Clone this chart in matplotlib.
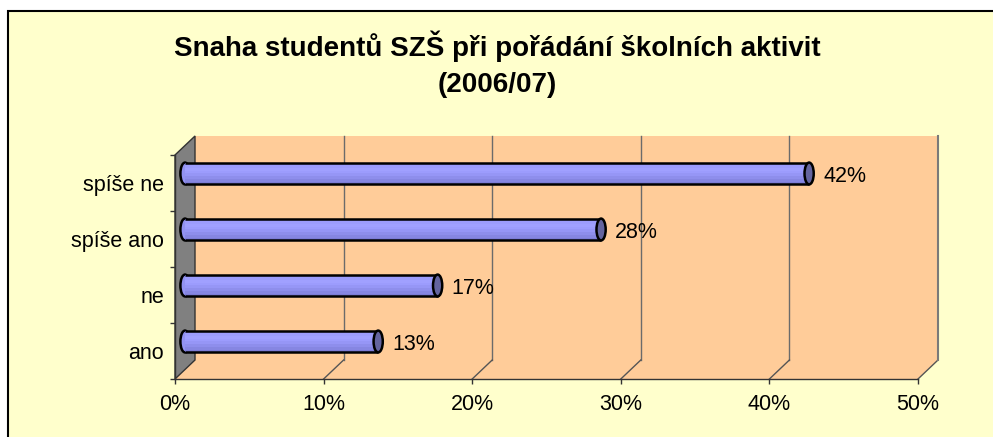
import matplotlib
matplotlib.use("Agg")
import matplotlib.pyplot as plt
from matplotlib.patches import Rectangle, Polygon, Ellipse
from matplotlib.transforms import ScaledTranslation, IdentityTransform
import numpy as np

# ---- data ----
categories = ["ano", "ne", "spíše ano", "spíše ne"]
values = [13, 17, 28, 42]
value_labels = ["13%", "17%", "28%", "42%"]
x_ticks = [0, 10, 20, 30, 40, 50]
x_tick_labels = ["0%", "10%", "20%", "30%", "40%", "50%"]
title = "Snaha studentů SZŠ při pořádání školních aktivit\n(2006/07)"

# ---- style ----
W, H, DPI = 993, 437, 100
DX, DY = 20, 19          # 3D depth offset in pixels
plt.rcParams['font.family'] = ['Liberation Sans', 'DejaVu Sans']
FS = 15.5

fig = plt.figure(figsize=(W / DPI, H / DPI), dpi=DPI, facecolor='white')
fig.patches.append(Rectangle((8 / W, -0.2), 1.0, 1.2 - 11 / H, transform=fig.transFigure,
                             facecolor='#FFFFCC', edgecolor='black', lw=1.5, zorder=-5))

ax = fig.add_axes([175 / W, 1 - 379 / H, 743 / W, 224 / H])
ax.set_zorder(1)
ax.set_xlim(0, 50)
ax.set_ylim(-0.5, 3.5)
ax.patch.set_visible(False)
for s in ['top', 'right']:
    ax.spines[s].set_visible(False)
for s in ['left', 'bottom']:
    ax.spines[s].set_color('#333333')
    ax.spines[s].set_linewidth(1.0)
    ax.spines[s].set_zorder(2)

ID = IdentityTransform()


def P(x, y, d):
    px, py = ax.transData.transform((x, y))
    return (px + d * DX, py + d * DY)


ymin, ymax = ax.get_ylim()
xmin, xmax = ax.get_xlim()

# back wall + floor
wall = Polygon([P(xmin, ymin, 0), P(xmax, ymin, 0), P(xmax, ymin, 1), P(xmax, ymax, 1),
                P(xmin, ymax, 1), P(xmin, ymin, 1)], closed=True, transform=ID,
               facecolor='#FFCC99', edgecolor='none', clip_on=False, zorder=0.5)
ax.add_patch(wall)

# gridlines on back wall and floor
for xt in x_ticks[1:]:
    if xt < xmax:
        (x0, y0), (x1, y1) = P(xt, ymin, 1), P(xt, ymax, 1)
        ax.add_line(plt.Line2D([x0, x1], [y0, y1], transform=ID, color='#6b6b6b', lw=1.0,
                               clip_on=False, zorder=0.8))
    (x0, y0), (x1, y1) = P(xt, ymin, 0), P(xt, ymin, 1)
    ax.add_line(plt.Line2D([x0, x1], [y0, y1], transform=ID, color='#555555', lw=1.0,
                           clip_on=False, zorder=0.8))
(x0, y0), (x1, y1) = P(xmax, ymin, 1), P(xmax, ymax, 1)
ax.add_line(plt.Line2D([x0, x1], [y0, y1], transform=ID, color='#7a7a7a', lw=1.5,
                       clip_on=False, zorder=0.8))

# side wall
side = Polygon([P(xmin, ymin, 0), P(xmin, ymax, 0), P(xmin, ymax, 1), P(xmin, ymin, 1)],
               closed=True, transform=ID, facecolor='#808080', edgecolor='#333333', lw=1.0,
               clip_on=False, zorder=1)
ax.add_patch(side)

# cylinders
bar_tr = ax.transData + ScaledTranslation(DX / 2 / DPI, DY / 2 / DPI, fig.dpi_scale_trans)
bar_h = 0.39
cap_w = 0.62
band_colors = ['#8E8EEE', '#9C9CFC', '#A0A0FF', '#9C9CFD', '#9696F6', '#8E8EEC', '#8686E2', '#7C7CD6']
nb = len(band_colors)
band_h = bar_h / nb
ypos = np.arange(len(categories))
OLW = 1.8

for yi, v in zip(ypos, values):
    ax.add_patch(Ellipse((0, yi), cap_w, bar_h, transform=bar_tr, facecolor='#9292F2',
                         edgecolor='black', lw=OLW, zorder=3, clip_on=False))
for i, c in enumerate(band_colors):
    off = bar_h / 2 - band_h * (i + 0.5)
    ax.barh(ypos + off, values, height=band_h * 1.05, left=0, color=c, lw=0,
            transform=bar_tr, zorder=3.1, clip_on=False)
for yi, v in zip(ypos, values):
    for sgn in (1, -1):
        ax.plot([0, v], [yi + sgn * bar_h / 2] * 2, transform=bar_tr, color='black', lw=OLW,
                zorder=3.2, clip_on=False, solid_capstyle='butt')
    ax.add_patch(Ellipse((v, yi), cap_w, bar_h, transform=bar_tr, facecolor='#64649F',
                         edgecolor='black', lw=OLW, zorder=3.3, clip_on=False))

for yi, v, lab in zip(ypos, values, value_labels):
    ax.text(v + 0.95, yi - 0.05, lab, transform=bar_tr, ha='left', va='center',
            fontsize=FS, color='black', zorder=4)

# axes ticks
ax.set_xticks(x_ticks, x_tick_labels)
ax.tick_params(axis='x', length=3.6, width=1, color='#333333', pad=7, labelsize=FS)
ax.set_yticks(np.arange(ymin, ymax + 0.01, 1.0))
ax.set_yticklabels([])
ax.set_yticks(ypos, categories, minor=True)
ax.tick_params(axis='y', which='major', length=3.6, width=1, color='#333333')
ax.tick_params(axis='y', which='minor', length=0, pad=8, labelsize=FS)
ax.set_xlim(xmin, xmax)
ax.set_ylim(ymin, ymax)

fig.text(497 / W, 1 - 31 / H, title, ha='center', va='top', fontsize=20, fontweight='bold',
         linespacing=1.5)

fig.savefig('out.png', dpi=DPI, facecolor=fig.get_facecolor())
